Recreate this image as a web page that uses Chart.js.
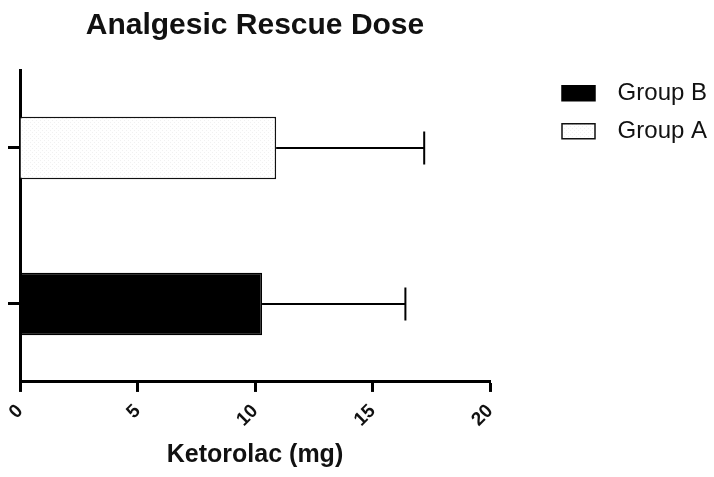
<!DOCTYPE html>
<html><head><meta charset="utf-8">
<script src="https://cdn.jsdelivr.net/npm/chart.js@4/dist/chart.umd.min.js"></script>
<style>html,body{margin:0;padding:0;background:#fff}</style>
</head><body><canvas id="c" width="714" height="477"></canvas>
<script>
const categories = ['Group A', 'Group B'];
const groupBMeans = [null, 10.3];
const groupBErrors = [null, 6.1];
const groupAMeans = [10.9, null];
const groupAErrors = [6.3, null];
const xTicks = [0, 5, 10, 15, 20];

const FONT = "'Liberation Sans', Arial, sans-serif";

function makePattern() {
  const p = document.createElement('canvas');
  p.width = 4; p.height = 4;
  const g = p.getContext('2d');
  g.fillStyle = '#ffffff'; g.fillRect(0, 0, 4, 4);
  g.fillStyle = '#f1f1f1'; g.fillRect(0, 0, 1, 1); g.fillRect(2, 2, 1, 1);
  return g.createPattern(p, 'repeat');
}

const errorBars = {
  id: 'errorBars',
  afterDatasetsDraw(chart) {
    const ctx = chart.ctx, xs = chart.scales.x;
    chart.data.datasets.forEach((ds, di) => {
      const meta = chart.getDatasetMeta(di);
      (ds.errors || []).forEach((e, i) => {
        if (e == null || ds.data[i] == null) return;
        const y = meta.data[i].y;
        const x0 = xs.getPixelForValue(ds.data[i]);
        const x1 = xs.getPixelForValue(ds.data[i] + e);
        ctx.save();
        ctx.strokeStyle = '#000'; ctx.lineWidth = 2;
        ctx.beginPath();
        ctx.moveTo(x0, y); ctx.lineTo(x1, y);
        ctx.moveTo(x1, y - 16.5); ctx.lineTo(x1, y + 16.5);
        ctx.stroke();
        ctx.restore();
      });
    });
  }
};

// keep the right-hand legend at a fixed width (the layout otherwise caps it)
const legendWidth = {
  id: 'legendWidth',
  afterInit(chart) {
    const lg = chart.legend;
    if (!lg) return;
    const orig = lg.fit;
    lg.fit = function () { orig.call(this); this.width = 159; };
  }
};

new Chart(document.getElementById('c'), {
  type: 'bar',
  data: {
    labels: categories,
    datasets: [
      { label: 'Group B', data: groupBMeans, errors: groupBErrors, backgroundColor: '#000', borderColor: '#000', borderWidth: 1.5, barPercentage: 0.4, categoryPercentage: 1 },
      { label: 'Group A', data: groupAMeans, errors: groupAErrors, backgroundColor: makePattern(), borderColor: '#111', borderWidth: 1.5, barPercentage: 0.4, categoryPercentage: 1 }
    ]
  },
  options: {
    indexAxis: 'y',
    responsive: false,
    animation: false,
    layout: { padding: { left: 8, right: 7, top: 0, bottom: 0 } },
    scales: {
      x: {
        min: 0, max: 20,
        afterBuildTicks: s => { s.ticks = xTicks.map(v => ({ value: v })); },
        ticks: { maxRotation: 45, minRotation: 45, padding: 8, color: '#111', font: { family: FONT, size: 19, weight: 'bold' } },
        grid: { drawOnChartArea: false, tickLength: 10, tickWidth: 3, tickColor: '#000' },
        border: { width: 3, color: '#000' },
        title: { display: true, text: 'Ketorolac (mg)', color: '#111', font: { family: FONT, size: 25, weight: 'bold' }, padding: { top: 1, bottom: 7 } }
      },
      y: {
        type: 'category',
        stacked: true,
        ticks: { display: false },
        grid: { drawOnChartArea: false, offset: false, tickLength: 12, tickWidth: 3, tickColor: '#000' },
        border: { width: 3, color: '#000' }
      },
      gap: {
        type: 'linear', position: 'right', display: true,
        ticks: { display: false }, grid: { display: false }, border: { display: false },
        afterFit: s => { s.width = 58; }
      }
    },
    plugins: {
      title: { display: true, fullSize: false, text: 'Analgesic Rescue Dose', color: '#111', font: { family: FONT, size: 30, weight: 'bold' }, padding: { top: 8, bottom: 26 } },
      legend: {
        position: 'right', align: 'start',
        title: { display: true, text: '', font: { size: 1 }, padding: { top: 66, bottom: 0 } },
        labels: { boxWidth: 33, boxHeight: 15, padding: 14, textAlign: 'right', color: '#111', font: { family: FONT, size: 24 } }
      },
      tooltip: { enabled: false }
    }
  },
  plugins: [errorBars, legendWidth]
});
</script></body></html>
